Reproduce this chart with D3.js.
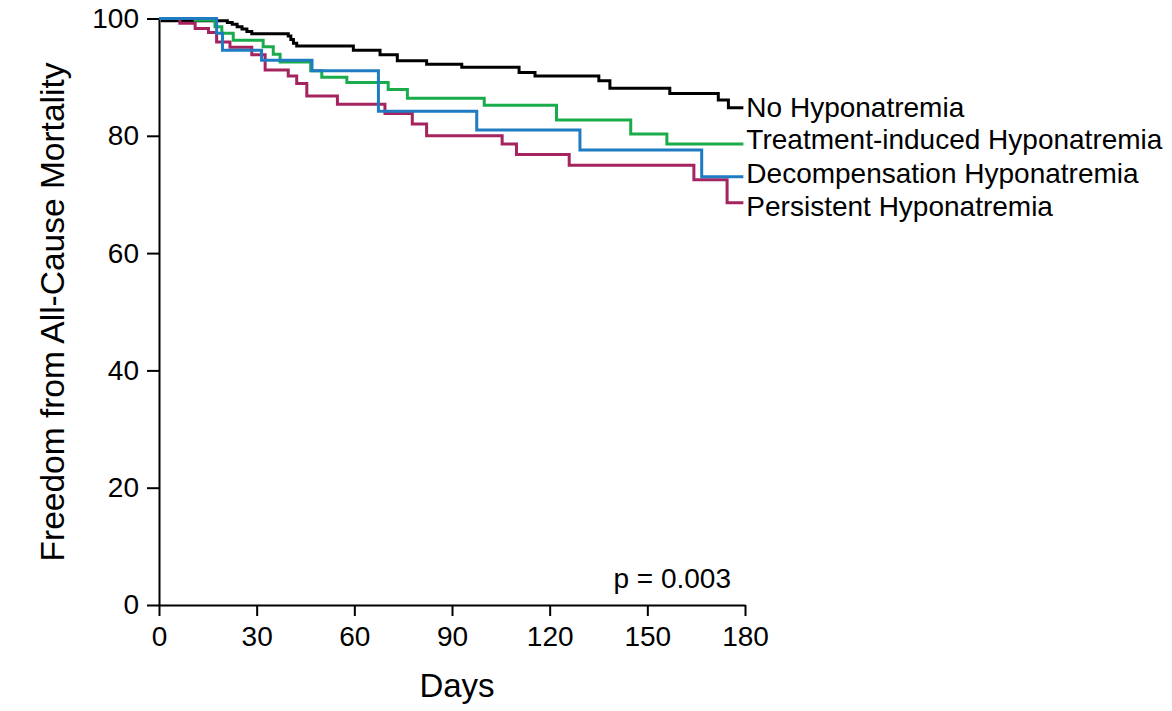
<!DOCTYPE html>
<html>
<head>
<meta charset="utf-8">
<script src="https://d3js.org/d3.v7.min.js"></script>
<style>
  body { margin: 0; background: #fff; }
  text { font-family: "Liberation Sans", Arial, Helvetica, sans-serif; fill: #000; }
</style>
</head>
<body>
<svg id="km" width="1172" height="711"></svg>
<script>
// Kaplan-Meier step points: [day, % free from mortality]
var noHypo = [[0,100],[1,99.6],[21,99.3],[22.5,99.0],[24,98.6],[25.5,98.2],[27,97.8],[28.5,97.4],
  [39.7,97.0],[40.5,96.4],[41.3,95.8],[42.3,95.3],[59.7,94.6],[67.9,93.8],[73.2,92.8],[82.2,92.2],
  [93,91.7],[110.6,90.8],[115.5,90.2],[135.1,89.4],[138.5,88.1],[156.9,87.2],[171.8,86.1],[174.9,84.8],[179.5,84.8]];
var treatment = [[0,100],[11.1,99.7],[17.2,98.6],[19.3,97.5],[22.8,96.3],[32.0,95.2],[35.1,93.9],[37.2,92.6],
  [46.6,91.1],[50.0,90.0],[57.7,89.1],[70.4,87.9],[76.3,86.4],[99.9,85.2],[122.1,82.7],[144.9,80.3],[156,78.6],[179.5,78.6]];
var decomp = [[0,100],[17.7,97.5],[19.5,94.6],[31.5,92.9],[47,91.1],[67.4,84.2],[97.6,81.0],[129.3,77.6],[166.7,73.0],[179.5,73.0]];
var persistent = [[0,100],[6.4,99.2],[11.1,98.3],[15.2,97.6],[17.7,96.0],[21.8,95.1],[28.5,93.8],[32.6,91.2],
  [39.7,90.2],[42.3,88.9],[45.4,86.8],[54.8,85.4],[69.4,83.8],[77.8,82.0],[82.2,80.0],[105.4,78.6],
  [109.8,76.8],[126.0,75.0],[164.3,72.5],[174.5,68.6],[179.5,68.6]];

var groupNames = ["No Hyponatremia", "Treatment-induced Hyponatremia", "Decompensation Hyponatremia", "Persistent Hyponatremia"];
var xTicks = [0, 30, 60, 90, 120, 150, 180];
var yTicks = [0, 20, 40, 60, 80, 100];
var pText = "p = 0.003";

var svg = d3.select("#km");
var xScale = d3.scaleLinear().domain([0, 180]).range([159, 745]);
var yScale = d3.scaleLinear().domain([0, 100]).range([605, 18.5]);

var series = [
  {name: groupNames[0], data: noHypo, color: "#000000", nudge: 0},
  {name: groupNames[1], data: treatment, color: "#1aab4b", nudge: -5},
  {name: groupNames[2], data: decomp, color: "#1f7cc2", nudge: -3},
  {name: groupNames[3], data: persistent, color: "#a5245f", nudge: 4}
];

// axes
var xAxisG = svg.append("g")
  .attr("transform", "translate(0," + yScale(0) + ")")
  .call(d3.axisBottom(xScale).tickValues(xTicks).tickSize(11).tickSizeOuter(0).tickPadding(10));
var yAxisG = svg.append("g")
  .attr("transform", "translate(" + xScale(0) + ",0)")
  .call(d3.axisLeft(yScale).tickValues(yTicks).tickSize(12).tickSizeOuter(0).tickPadding(8));
svg.selectAll(".domain").attr("stroke", "#000").attr("stroke-width", 2);
svg.selectAll(".tick line").attr("stroke", "#000").attr("stroke-width", 2);
svg.selectAll(".tick text")
  .style("font-family", "'Liberation Sans', Arial, sans-serif")
  .style("font-size", "28px")
  .attr("fill", "#000");

var line = d3.line()
  .x(d => xScale(d[0]))
  .y(d => yScale(d[1]))
  .curve(d3.curveStepAfter);

// draw order: black, purple, green, blue
[0, 3, 1, 2].forEach(function(i) {
  svg.append("path")
    .attr("d", line(series[i].data))
    .attr("fill", "none")
    .attr("stroke", series[i].color)
    .attr("stroke-width", 3);
});

// end labels
series.forEach(function(s) {
  var last = s.data[s.data.length - 1];
  svg.append("text")
    .attr("x", xScale(last[0]) + 3)
    .attr("y", yScale(last[1]) + 9.5 + s.nudge)
    .style("font-size", "28px")
    .text(s.name);
});

svg.append("text")
  .attr("x", 731)
  .attr("y", 588)
  .attr("text-anchor", "end")
  .style("font-size", "28px")
  .text(pText);

svg.append("text")
  .attr("x", 457)
  .attr("y", 697)
  .attr("text-anchor", "middle")
  .style("font-size", "33px")
  .text("Days");

svg.append("text")
  .attr("transform", "translate(64,312) rotate(-90)")
  .attr("text-anchor", "middle")
  .style("font-size", "33.5px")
  .text("Freedom from All-Cause Mortality");
</script>
</body>
</html>
